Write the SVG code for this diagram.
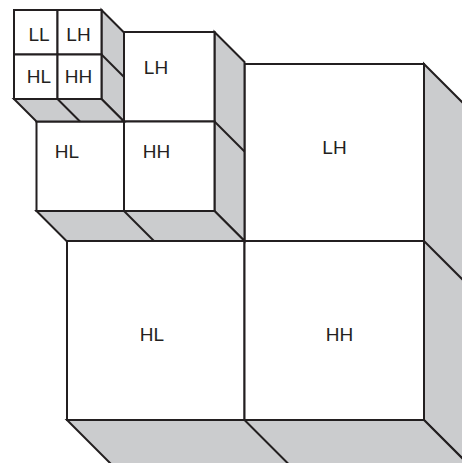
<svg xmlns="http://www.w3.org/2000/svg" width="462" height="463" viewBox="0 0 462 463">
<style>
.face{fill:#cbccce;stroke:#231f20;stroke-width:2;stroke-linejoin:miter}
.div{fill:none;stroke:#231f20;stroke-width:2}
.cell{fill:#ffffff;stroke:#231f20;stroke-width:2}
.lbl{font-family:"Liberation Sans",Arial,Helvetica,sans-serif;font-size:19px;fill:#231f20;text-anchor:middle}
</style>
<rect width="462" height="463" fill="#ffffff"/>
<!-- Level 1 -->
<g id="level1">
  <g id="level1-faces">
    <polygon class="face" points="424,64 484,124 484,480 424,420"/>
    <polygon class="face" points="67,420 424,420 484,480 127,480"/>
    <line class="div" x1="424" y1="241" x2="484" y2="301"/>
    <line class="div" x1="244.5" y1="420" x2="304.5" y2="480"/>
  </g>
  <g id="L1-LL"><rect class="cell" x="67" y="64" width="177.5" height="177"/></g>
  <g id="L1-LH"><rect class="cell" x="244.5" y="64" width="179.5" height="177"/><text class="lbl" x="334.5" y="154">LH</text></g>
  <g id="L1-HL"><rect class="cell" x="67" y="241" width="177.5" height="179"/><text class="lbl" x="152" y="341">HL</text></g>
  <g id="L1-HH"><rect class="cell" x="244.5" y="241" width="179.5" height="179"/><text class="lbl" x="339.5" y="341">HH</text></g>
</g>
<!-- Level 2 -->
<g id="level2">
  <g id="level2-faces">
    <polygon class="face" points="214.5,32 244.5,62 244.5,241 214.5,211"/>
    <polygon class="face" points="36.5,211 214.5,211 244.5,241 66.5,241"/>
    <line class="div" x1="214.5" y1="121.5" x2="244.5" y2="151.5"/>
    <line class="div" x1="124" y1="211" x2="154" y2="241"/>
  </g>
  <g id="L2-LL"><rect class="cell" x="36.5" y="32" width="87.5" height="89.5"/></g>
  <g id="L2-LH"><rect class="cell" x="124" y="32" width="90.5" height="89.5"/><text class="lbl" x="156" y="73.5">LH</text></g>
  <g id="L2-HL"><rect class="cell" x="36.5" y="121.5" width="87.5" height="89.5"/><text class="lbl" x="67" y="158">HL</text></g>
  <g id="L2-HH"><rect class="cell" x="124" y="121.5" width="90.5" height="89.5"/><text class="lbl" x="156.5" y="158">HH</text></g>
</g>
<!-- Level 3 -->
<g id="level3">
  <g id="level3-faces">
    <polygon class="face" points="101.5,10 124,32.5 124,121.5 101.5,99"/>
    <polygon class="face" points="14,99 101.5,99 124,121.5 36.5,121.5"/>
    <line class="div" x1="101.5" y1="54.5" x2="124" y2="77"/>
    <line class="div" x1="57.5" y1="99" x2="80" y2="121.5"/>
  </g>
  <g id="L3-LL"><rect class="cell" x="14" y="10" width="43.5" height="44.5"/><text class="lbl" x="39" y="40.5">LL</text></g>
  <g id="L3-LH"><rect class="cell" x="57.5" y="10" width="44" height="44.5"/><text class="lbl" x="78.5" y="40.5">LH</text></g>
  <g id="L3-HL"><rect class="cell" x="14" y="54.5" width="43.5" height="44.5"/><text class="lbl" x="39" y="82.5">HL</text></g>
  <g id="L3-HH"><rect class="cell" x="57.5" y="54.5" width="44" height="44.5"/><text class="lbl" x="78.5" y="82.5">HH</text></g>
</g>
<g id="connectors"/>
</svg>
